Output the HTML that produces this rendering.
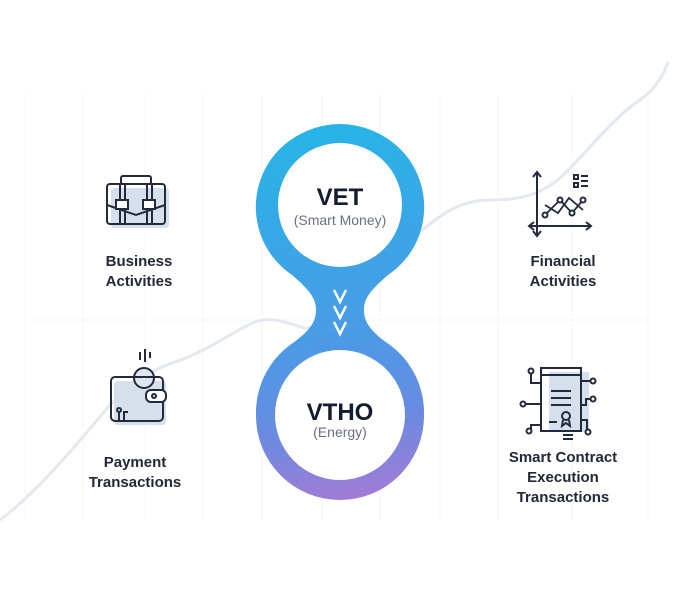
<!DOCTYPE html>
<html><head><meta charset="utf-8"><style>
html,body{margin:0;padding:0;background:#fff;}
body{width:680px;height:610px;overflow:hidden;font-family:"Liberation Sans",sans-serif;}
</style></head><body>
<svg width="680" height="610" viewBox="0 0 680 610" xmlns="http://www.w3.org/2000/svg">
<defs>
<linearGradient id="g" gradientUnits="userSpaceOnUse" x1="320" y1="125" x2="380" y2="500">
<stop offset="0" stop-color="#27b4e6"/>
<stop offset="0.55" stop-color="#4a9be6"/>
<stop offset="0.8" stop-color="#6c8ae0"/>
<stop offset="1" stop-color="#a67ad6"/>
</linearGradient>
</defs>
<g stroke="#f3f5f8" stroke-width="1">
<line x1="25" y1="95" x2="25" y2="520"/><line x1="83" y1="95" x2="83" y2="520"/>
<line x1="145" y1="95" x2="145" y2="520"/><line x1="203" y1="95" x2="203" y2="520"/>
<line x1="262" y1="95" x2="262" y2="520"/><line x1="322" y1="95" x2="322" y2="520"/>
<line x1="380" y1="95" x2="380" y2="520"/><line x1="440" y1="95" x2="440" y2="520"/>
<line x1="498" y1="95" x2="498" y2="520"/><line x1="572" y1="95" x2="572" y2="520"/>
<line x1="648" y1="95" x2="648" y2="520"/>
<line x1="33" y1="320" x2="650" y2="320"/>
</g>
<path d="M0,520 C40,490 80,440 110,405 C130,385 150,370 175,362 C210,350 235,330 255,322 C275,315 290,325 305,328 C320,330 335,310 350,300 C380,280 400,250 420,232 C440,215 460,200 490,200 C520,200 540,195 560,178 C590,150 610,120 640,100 C660,85 665,70 668,62" fill="none" stroke="#e4e8ef" stroke-width="3"/>
<path d="M340,125 A82,82 0 0 1 388,275 C368,292 364,300 364,310 C364,320 368,330 390,345 A84,84 0 1 1 290,345 C312,330 316,320 316,310 C316,300 312,292 292,275 A82,82 0 0 1 340,125 Z" fill="url(#g)"/>
<circle cx="340" cy="206" r="82" fill="url(#g)"/>
<circle cx="340" cy="416" r="84" fill="url(#g)"/>
<circle cx="340" cy="205" r="62" fill="#fff"/>
<circle cx="340" cy="415" r="65" fill="#fff"/>
<g fill="none" stroke="#fff" stroke-width="2.5">
<polyline points="334,290 340,302 346,290"/>
<polyline points="334,306 340,318 346,306"/>
<polyline points="334,322 340,334 346,322"/>
</g>
<text x="340" y="205" text-anchor="middle" font-size="24" font-weight="bold" fill="#141c30">VET</text>
<text x="340" y="225" text-anchor="middle" font-size="14" fill="#6b7080">(Smart Money)</text>
<text x="340" y="420" text-anchor="middle" font-size="24" font-weight="bold" fill="#141c30">VTHO</text>
<text x="340" y="437" text-anchor="middle" font-size="14" fill="#6b7080">(Energy)</text>
<g font-size="15" fill="#222838" text-anchor="middle" font-weight="bold">
<text x="139" y="266">Business</text><text x="139" y="286">Activities</text>
<text x="135" y="467">Payment</text><text x="135" y="487">Transactions</text>
<text x="563" y="266">Financial</text><text x="563" y="286">Activities</text>
<text x="563" y="462">Smart Contract</text><text x="563" y="482">Execution</text><text x="563" y="502">Transactions</text>
</g>
<!-- briefcase -->
<g fill="none" stroke="#232a3d" stroke-width="2">
<rect x="111" y="188" width="58" height="40" rx="3" fill="#d5e0ec" stroke="none"/>
<rect x="107" y="184" width="58" height="40" rx="3"/>
<rect x="121" y="176" width="30" height="8" rx="2"/>
<line x1="120" y1="184" x2="120" y2="224"/><line x1="125" y1="184" x2="125" y2="224"/>
<line x1="147" y1="184" x2="147" y2="224"/><line x1="152" y1="184" x2="152" y2="224"/>
<polyline points="107,205 136,215 165,205"/>
<rect x="116" y="200" width="12" height="9" fill="#fff"/><rect x="143" y="200" width="12" height="9" fill="#fff"/>
</g>
<!-- wallet -->
<g fill="none" stroke="#232a3d" stroke-width="2">
<rect x="114" y="381" width="52" height="44" rx="4" fill="#d5e0ec" stroke="none"/>
<circle cx="144" cy="378" r="10" fill="#dfe6ef"/>
<rect x="111" y="377" width="52" height="44" rx="4"/>
<rect x="146" y="390" width="20" height="12" rx="5" fill="#fff"/>
<circle cx="154" cy="396" r="2"/>
<path d="M119,412 v10 M119,408 m0,0 a2,2 0 1 0 0.1,0 M128,412 h-4 v10"/>
<line x1="140" y1="352" x2="140" y2="360"/><line x1="145" y1="349" x2="145" y2="362"/><line x1="150" y1="352" x2="150" y2="358"/>
</g>
<!-- chart -->
<g fill="none" stroke="#232a3d" stroke-width="2">
<line x1="537" y1="172" x2="537" y2="236"/><line x1="529" y1="226" x2="591" y2="226"/>
<polyline points="533,177 537,172 541,177"/><polyline points="533,231 537,236 541,231"/>
<polyline points="586,222 591,226 586,230"/><polyline points="534,222 529,226 534,230"/>
<polyline points="545,215 560,200 572,213 583,200" stroke-width="1.8"/>
<polyline points="545,205 558,213 569,198 583,210" stroke-width="1.8"/>
<circle cx="545" cy="215" r="2.5" fill="#fff"/><circle cx="560" cy="200" r="2.5" fill="#fff"/><circle cx="572" cy="213" r="2.5" fill="#fff"/><circle cx="583" cy="200" r="2.5" fill="#fff"/>
<rect x="574" y="175" width="4" height="4"/><rect x="574" y="183" width="4" height="4"/>
<line x1="581" y1="176" x2="588" y2="176"/><line x1="581" y1="181" x2="588" y2="181"/><line x1="581" y1="186" x2="588" y2="186"/>
</g>
<!-- contract -->
<g fill="none" stroke="#232a3d" stroke-width="2">
<rect x="549" y="372" width="40" height="60" fill="#d5e0ec" stroke="none"/>
<rect x="541" y="368" width="40" height="63"/>
<line x1="541" y1="375" x2="581" y2="375"/>
<line x1="551" y1="391" x2="571" y2="391"/><line x1="551" y1="398" x2="571" y2="398"/><line x1="551" y1="405" x2="571" y2="405"/>
<line x1="549" y1="422" x2="557" y2="422"/><circle cx="566" cy="416" r="4"/><polyline points="563,420 562,426 566,423 570,426 569,420"/>
<line x1="563" y1="435" x2="573" y2="435"/><line x1="563" y1="439" x2="573" y2="439"/>
<path d="M531,373 v10 h10 M525,404 h16 M531,430 v-5 h10 M581,381 h10 M581,405 h5 v-6 h5 M581,420 h6 v10"/>
<circle cx="531" cy="371" r="2.5" fill="#fff"/><circle cx="523" cy="404" r="2.5" fill="#fff"/><circle cx="529" cy="431" r="2.5" fill="#fff"/>
<circle cx="593" cy="381" r="2.5" fill="#fff"/><circle cx="593" cy="399" r="2.5" fill="#fff"/><circle cx="588" cy="432" r="2.5" fill="#fff"/>
</g>
</svg>
</body></html>
